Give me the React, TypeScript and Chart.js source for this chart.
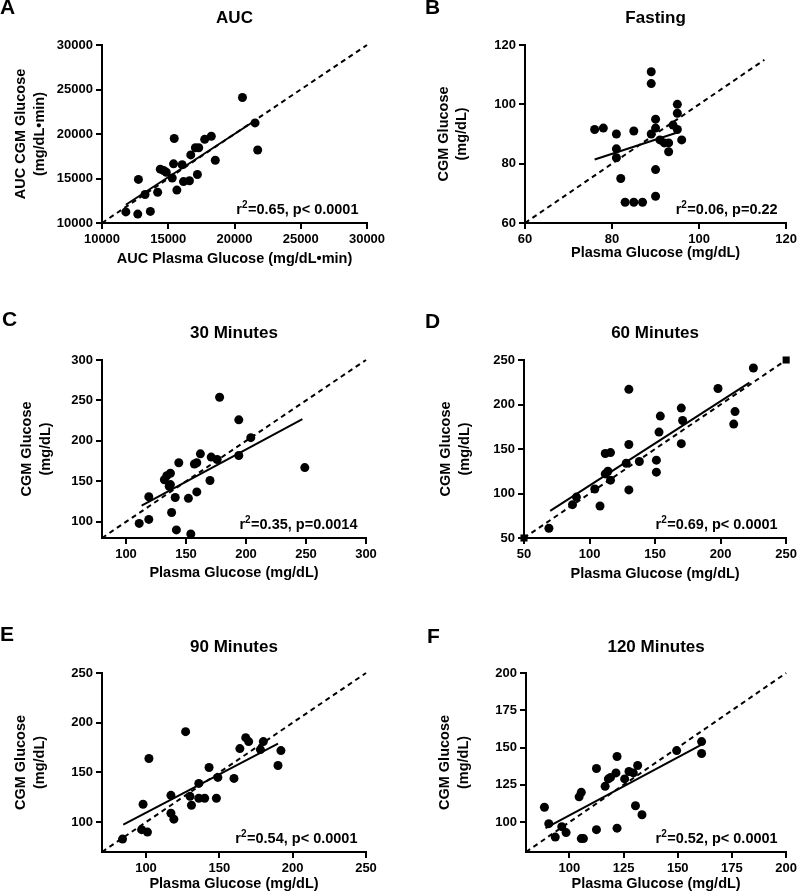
import React, { useEffect, useRef } from "react";
import { Chart, registerables } from "chart.js";

Chart.register(...registerables);

const FONT = "'Liberation Sans', Arial, Helvetica, sans-serif";

// ---------- Panel A: AUC ----------
const aucPlasma = [11800, 12700, 12750, 13250, 13650, 14200, 14400, 14650, 14850, 15300, 15400, 15450, 15650, 16050, 16150, 16600, 16700, 17050, 17300, 17200, 17750, 18250, 18550, 20600, 21550, 21750];
const aucCgm = [11250, 11000, 14900, 13200, 11300, 13450, 16050, 15900, 15700, 15050, 16650, 19500, 13700, 16550, 14650, 14750, 17650, 18450, 18450, 15450, 19400, 19750, 17050, 24100, 21250, 18200];
const aucFitX = [11800, 21650];
const aucFitY = [12050, 21600];
const aucIdentity = [10000, 30000];
const aucTicks = [10000, 15000, 20000, 25000, 30000];

// ---------- Panel B: Fasting ----------
const fastPlasma = [76, 78, 81, 81, 81, 82, 83, 85, 87, 85, 89, 89, 89, 90, 90, 90, 90, 91, 92, 93, 93, 94, 95, 95, 95, 96];
const fastCgm = [91.5, 92, 90, 85, 82, 75, 67, 67, 67, 91, 111, 107, 90, 95, 92, 78, 69, 88, 87, 87, 84, 93, 100, 97, 91.5, 88];
const fastFitX = [76, 95];
const fastFitY = [81.4, 90.5];
const fastIdentity = [60, 115];
const fastTicks = [60, 80, 100, 120];

// ---------- Panel C: 30 Minutes ----------
const min30Plasma = [111, 119, 119, 132, 134, 137, 136, 137, 138, 141, 142, 144, 152, 154, 157, 159, 159, 162, 170, 171, 176, 178, 194, 194, 204, 249];
const min30Cgm = [98, 131, 103, 152, 157, 160, 144, 146, 111.5, 130, 90, 173, 129, 85, 171.5, 173, 137, 184, 151, 180, 177, 254, 226, 182, 204, 167];
const min30FitX = [113, 247];
const min30FitY = [120, 227];
const min30Identity = [80, 300];
const min30Ticks = [100, 150, 200, 250, 300];

// ---------- Panel D: 60 Minutes ----------
const min60Plasma = [69, 87, 90, 104, 108, 112, 112, 116, 114, 116, 128, 130, 130, 130, 138, 151, 151, 153, 154, 170, 171, 170, 198, 211, 210, 225];
const min60Cgm = [61, 87.5, 96, 105, 86, 122, 145, 146, 125, 115, 134, 217, 155, 104, 136, 137.5, 124, 169, 187, 196, 182, 156, 218, 192, 178, 241];
const min60FitX = [70, 222];
const min60FitY = [80.5, 224.5];
const min60Identity = [50, 250];
const min60Ticks = [50, 100, 150, 200, 250];

// ---------- Panel E: 90 Minutes ----------
const min90Plasma = [84, 97, 101, 98, 102, 117, 117, 119, 127, 130, 131, 136, 136, 140, 143, 148, 149, 160, 164, 168, 170, 178, 180, 190, 192];
const min90Cgm = [83, 92.5, 90, 118, 164, 127, 109, 103, 191, 126, 117, 139, 124, 124, 155, 124, 145, 144, 174, 185, 181, 173, 181, 157, 172];
const min90FitX = [84.5, 190];
const min90FitY = [97.5, 179];
const min90Identity = [70, 250];
const min90Ticks = [100, 150, 200, 250];

// ---------- Panel F: 120 Minutes ----------
const min120Plasma = [88.5, 90.5, 93.5, 96.5, 98.5, 104.5, 105.5, 105.5, 106.5, 112.5, 112.5, 116.5, 118, 119, 121.5, 122, 122, 125.5, 127.5, 129.5, 130.5, 131.5, 133.5, 149.5, 161, 161];
const min120Cgm = [110, 99, 90, 97, 93, 117, 120, 89, 89, 136, 95, 124, 129, 130, 133, 144, 96, 129, 134, 133, 111, 138, 105, 148, 154, 146];
const min120FitX = [89, 161];
const min120FitY = [96, 152];
const min120Identity = [80, 200];
const min120Ticks = [100, 125, 150, 175, 200];

const plasmaTitle = "Plasma Glucose (mg/dL)";
const cgmTitle = ["CGM Glucose", "(mg/dL)"];

type PanelSpec = {
  key: string;
  letter: string;
  title: string;
  stat: string;
  xs: number[];
  ys: number[];
  fitX: number[];
  fitY: number[];
  identity: number[];
  ticks: number[];
  min: number;
  max: number;
  xTitle: string;
  yTitle: string[];
  endSquares?: boolean;
  left: number;
  top: number;
  w: number;
  h: number;
  padTop: number;
  padRight: number;
  yWidth: number;
  xHeight: number;
  yTitlePad: number;
  xTitlePad: number;
  titleY: number;
  letterX: number;
  letterY: number;
};

const panels: PanelSpec[] = [
  {
    key: "A", letter: "A", title: "AUC", stat: "=0.65, p< 0.0001",
    xs: aucPlasma, ys: aucCgm, fitX: aucFitX, fitY: aucFitY, identity: aucIdentity,
    ticks: aucTicks, min: 10000, max: 30000,
    xTitle: "AUC Plasma Glucose (mg/dL•min)", yTitle: ["AUC CGM Glucose", "(mg/dL•min)"],
    left: 0, top: 0, w: 400, h: 295, padTop: 45, padRight: 33, yWidth: 102, xHeight: 72,
    yTitlePad: 11.6, xTitlePad: 26.6, titleY: 18.5, letterX: 0, letterY: 8,
  },
  {
    key: "B", letter: "B", title: "Fasting", stat: "=0.06, p=0.22",
    xs: fastPlasma, ys: fastCgm, fitX: fastFitX, fitY: fastFitY, identity: fastIdentity,
    ticks: fastTicks, min: 60, max: 120,
    xTitle: plasmaTitle, yTitle: cgmTitle,
    left: 400, top: 0, w: 400, h: 295, padTop: 45, padRight: 11, yWidth: 125, xHeight: 72,
    yTitlePad: 34.1, xTitlePad: 32.6, titleY: 18.5, letterX: 25, letterY: 8,
  },
  {
    key: "C", letter: "C", title: "30 Minutes", stat: "=0.35, p=0.0014",
    xs: min30Plasma, ys: min30Cgm, fitX: min30FitX, fitY: min30FitY, identity: min30Identity,
    ticks: min30Ticks, min: 80, max: 300,
    xTitle: plasmaTitle, yTitle: cgmTitle,
    left: 0, top: 295, w: 400, h: 295, padTop: 65, padRight: 34, yWidth: 102, xHeight: 52,
    yTitlePad: 17.3, xTitlePad: 7.6, titleY: 38, letterX: 2, letterY: 25.5,
  },
  {
    key: "D", letter: "D", title: "60 Minutes", stat: "=0.69, p< 0.0001",
    xs: min60Plasma, ys: min60Cgm, fitX: min60FitX, fitY: min60FitY, identity: min60Identity,
    ticks: min60Ticks, min: 50, max: 250, endSquares: true,
    xTitle: plasmaTitle, yTitle: cgmTitle,
    left: 400, top: 295, w: 400, h: 295, padTop: 65, padRight: 11, yWidth: 124, xHeight: 52,
    yTitlePad: 36.6, xTitlePad: 6.6, titleY: 38, letterX: 25, letterY: 27.5,
  },
  {
    key: "E", letter: "E", title: "90 Minutes", stat: "=0.54, p< 0.0001",
    xs: min90Plasma, ys: min90Cgm, fitX: min90FitX, fitY: min90FitY, identity: min90Identity,
    ticks: min90Ticks, min: 70, max: 250,
    xTitle: plasmaTitle, yTitle: cgmTitle,
    left: 0, top: 590, w: 400, h: 305, padTop: 83, padRight: 34, yWidth: 102, xHeight: 43,
    yTitlePad: 11.6, xTitlePad: 1.6, titleY: 57, letterX: 0, letterY: 45,
  },
  {
    key: "F", letter: "F", title: "120 Minutes", stat: "=0.52, p< 0.0001",
    xs: min120Plasma, ys: min120Cgm, fitX: min120FitX, fitY: min120FitY, identity: min120Identity,
    ticks: min120Ticks, min: 80, max: 200,
    xTitle: plasmaTitle, yTitle: cgmTitle,
    left: 400, top: 590, w: 400, h: 305, padTop: 83, padRight: 11, yWidth: 126, xHeight: 43,
    yTitlePad: 35.6, xTitlePad: 1.6, titleY: 57, letterX: 27, letterY: 47,
  },
];

const panelText = {
  id: "panelText",
  afterDraw(chart: any, _args: any, opts: any) {
    const { ctx, chartArea } = chart;
    ctx.save();
    ctx.fillStyle = "#000";
    ctx.textBaseline = "middle";
    ctx.font = `bold 17px ${FONT}`;
    ctx.textAlign = "center";
    ctx.fillText(opts.title, (chartArea.left + chartArea.right) / 2, opts.titleY);
    ctx.font = `bold 21px ${FONT}`;
    ctx.textAlign = "left";
    ctx.fillText(opts.letter, opts.letterX, opts.letterY);

    // statistic: r with superscript 2, then the rest
    const mainFont = `bold 14.5px ${FONT}`;
    const supFont = `bold 10px ${FONT}`;
    ctx.textBaseline = "alphabetic";
    ctx.textAlign = "left";
    ctx.font = mainFont;
    const wR = ctx.measureText("r").width;
    const wRest = ctx.measureText(opts.stat).width;
    ctx.font = supFont;
    const wSup = ctx.measureText("2").width;
    const total = wR + wSup + 0.5 + wRest;
    const baseY = chartArea.bottom - 14 + 5.2;
    let x = chartArea.right - 8.5 - total;
    ctx.font = mainFont;
    ctx.fillText("r", x, baseY);
    x += wR;
    ctx.font = supFont;
    ctx.fillText("2", x, baseY - 6);
    x += wSup + 0.5;
    ctx.font = mainFont;
    ctx.fillText(opts.stat, x, baseY);
    ctx.restore();
  },
};

function axisOptions(p: PanelSpec, isX: boolean) {
  return {
    type: "linear",
    position: isX ? "bottom" : "left",
    min: p.min,
    max: p.max,
    afterBuildTicks: (s: any) => {
      s.ticks = p.ticks.map((v) => ({ value: v }));
    },
    afterFit: (s: any) => {
      if (isX) s.height = p.xHeight;
      else s.width = p.yWidth;
    },
    ticks: {
      autoSkip: false,
      maxRotation: 0,
      padding: 3,
      color: "#000",
      font: { family: FONT, size: 13, weight: "bold" },
      callback: (v: any) => String(v),
    },
    grid: {
      display: true,
      drawOnChartArea: false,
      drawTicks: true,
      tickLength: 6,
      color: "#000",
      lineWidth: 2,
    },
    border: { display: true, color: "#000", width: 2 },
    title: {
      display: true,
      text: isX ? p.xTitle : p.yTitle,
      color: "#000",
      font: { family: FONT, size: 14.5, weight: "bold", lineHeight: 1.3 },
      padding: isX ? { top: 0, bottom: p.xTitlePad } : { top: p.yTitlePad, bottom: 0 },
    },
  };
}

function buildConfig(p: PanelSpec): any {
  const points = p.xs.map((x, i) => ({ x, y: p.ys[i] }));
  const identity = p.identity.map((v) => ({ x: v, y: v }));
  const fit = p.fitX.map((x, i) => ({ x, y: p.fitY[i] }));
  const datasets: any[] = [
    {
      label: "Identity",
      data: identity,
      showLine: true,
      borderColor: "#000",
      borderWidth: 2,
      borderDash: [5, 4],
      pointRadius: 0,
      clip: false,
      order: 3,
    },
    {
      label: "Fit",
      data: fit,
      showLine: true,
      borderColor: "#000",
      borderWidth: 2,
      pointRadius: 0,
      clip: false,
      order: 2,
    },
    {
      label: "Subjects",
      data: points,
      showLine: false,
      pointRadius: 4.5,
      pointBackgroundColor: "#000",
      pointBorderColor: "#000",
      pointBorderWidth: 0,
      backgroundColor: "#000",
      borderColor: "#000",
      clip: false,
      order: 1,
    },
  ];
  if (p.endSquares) {
    datasets.push({
      label: "Ends",
      data: identity,
      showLine: false,
      pointStyle: "rect",
      pointRadius: 5,
      pointBackgroundColor: "#000",
      pointBorderWidth: 0,
      clip: false,
      order: 0,
    });
  }
  return {
    type: "scatter",
    data: { datasets },
    plugins: [panelText],
    options: {
      responsive: false,
      animation: false,
      devicePixelRatio: 1,
      layout: { padding: { top: p.padTop, right: p.padRight, left: 0, bottom: 0 } },
      scales: {
        x: axisOptions(p, true),
        y: axisOptions(p, false),
      },
      plugins: {
        legend: { display: false },
        tooltip: { enabled: false },
        title: { display: false },
        panelText: {
          title: p.title,
          titleY: p.titleY,
          letter: p.letter,
          letterX: p.letterX,
          letterY: p.letterY,
          stat: p.stat,
        },
      },
    },
  };
}

function Panel({ spec }: { spec: PanelSpec }) {
  const ref = useRef<HTMLCanvasElement>(null);
  useEffect(() => {
    if (!ref.current) return;
    const chart = new Chart(ref.current, buildConfig(spec));
    return () => chart.destroy();
  }, [spec]);
  return (
    <canvas
      ref={ref}
      width={spec.w}
      height={spec.h}
      style={{ position: "absolute", left: spec.left, top: spec.top, width: spec.w, height: spec.h }}
    />
  );
}

export default function App() {
  return (
    <div style={{ position: "absolute", left: 0, top: 0, width: 800, height: 895, background: "#fff", overflow: "hidden" }}>
      {panels.map((p) => (
        <Panel key={p.key} spec={p} />
      ))}
    </div>
  );
}
